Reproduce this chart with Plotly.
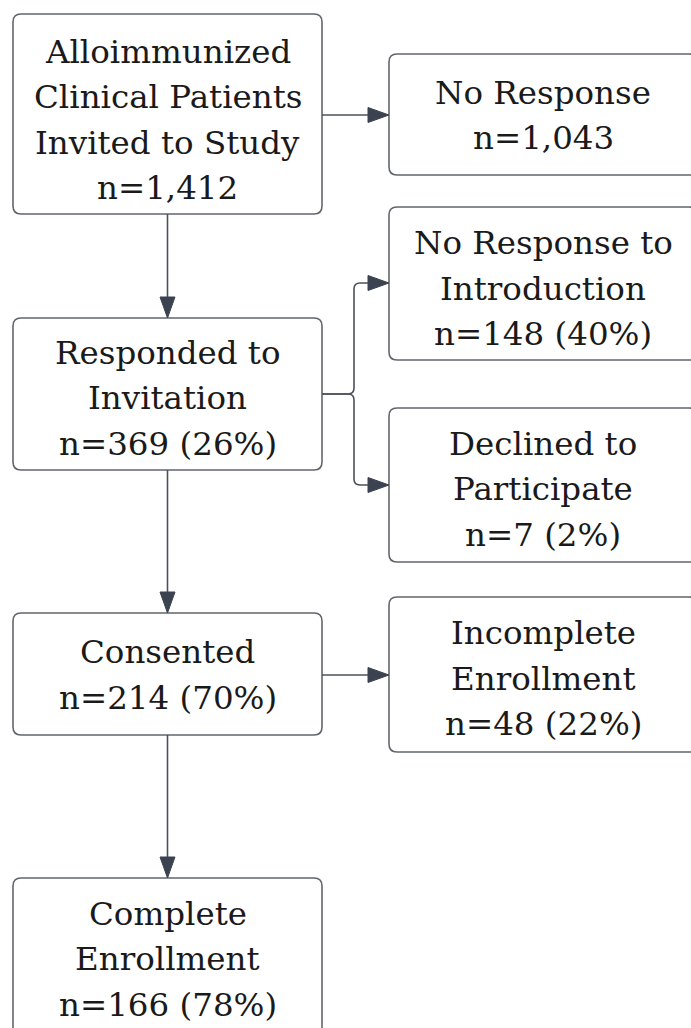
import plotly.graph_objects as go

# ---- data ----
stage_titles = [
    ["Alloimmunized", "Clinical Patients", "Invited to Study"],
    ["No Response"],
    ["Responded to", "Invitation"],
    ["No Response to", "Introduction"],
    ["Declined to", "Participate"],
    ["Consented"],
    ["Incomplete", "Enrollment"],
    ["Complete", "Enrollment"],
]
stage_counts = [1412, 1043, 369, 148, 7, 214, 48, 166]
stage_percents = [None, None, 26, 40, 2, 70, 22, 78]

# ---- layout (pixel geometry, y downwards) ----
W, H = 691, 1028
LEFT_X = (13, 322)
RIGHT_X = (389, 697)
box_x = [LEFT_X, RIGHT_X, LEFT_X, RIGHT_X, RIGHT_X, LEFT_X, RIGHT_X, LEFT_X]
box_y = [(14, 214), (54, 175), (318, 470), (207, 360), (408, 562),
         (613, 735), (597, 752), (878, 1040)]
text_offset = [6, 1, 4, 5, 4, 1, 4, 0]
LINE_GAP = 45.5
FONT = "DejaVu Serif"
FSIZE = 32.5
BORDER = "#62666c"
LINE = "#4b515a"
HEAD = "#3c4350"
R = 8

def rounded_rect(x0, y0, x1, y1, r):
    return (f"M {x0+r},{y0} L {x1-r},{y0} Q {x1},{y0} {x1},{y0+r} "
            f"L {x1},{y1-r} Q {x1},{y1} {x1-r},{y1} L {x0+r},{y1} "
            f"Q {x0},{y1} {x0},{y1-r} L {x0},{y0+r} Q {x0},{y0} {x0+r},{y0} Z")

def fmt_n(c, p):
    s = f"n={c:,}"
    if p is not None:
        s += f" ({p}%)"
    return s

shapes = []
annotations = []
for i, title in enumerate(stage_titles):
    (x0, x1), (y0, y1) = box_x[i], box_y[i]
    shapes.append(dict(type="path", path=rounded_rect(x0, y0, x1, y1, R),
                       line=dict(color=BORDER, width=1.6), fillcolor="white",
                       xref="x", yref="y", layer="below"))
    lines = title + [fmt_n(stage_counts[i], stage_percents[i])]
    n = len(lines)
    cx = (x0 + x1) / 2
    cy = (y0 + y1) / 2 + text_offset[i]
    for k, ln in enumerate(lines):
        annotations.append(dict(x=cx, y=cy + (k - (n - 1) / 2) * LINE_GAP,
                                xref="x", yref="y", text=ln, showarrow=False,
                                xanchor="center", yanchor="middle",
                                font=dict(family=FONT, size=FSIZE, color="#1a1a1a")))

HL, HW = 21, 7.5  # arrow head length, half width

def head(tx, ty, direction):
    if direction == "right":
        p = f"M {tx},{ty} L {tx-HL},{ty-HW} L {tx-HL},{ty+HW} Z"
    else:  # down
        p = f"M {tx},{ty} L {tx-HW},{ty-HL} L {tx+HW},{ty-HL} Z"
    shapes.append(dict(type="path", path=p, fillcolor=HEAD,
                       line=dict(color=HEAD, width=1), xref="x", yref="y"))

def seg(path):
    shapes.append(dict(type="path", path=path, line=dict(color=LINE, width=1.6),
                       xref="x", yref="y"))

midL = (LEFT_X[0] + LEFT_X[1]) / 2
# box1 -> No Response
y = 115
seg(f"M {LEFT_X[1]},{y} L {RIGHT_X[0]-HL},{y}"); head(RIGHT_X[0], y, "right")
# box1 -> Responded
seg(f"M {midL},{box_y[0][1]} L {midL},{box_y[2][0]-HL}"); head(midL, box_y[2][0], "down")
# branch from Responded
bx, by, ty, dy, r = 354, 394, 283, 485, 6
seg(f"M {RIGHT_X[0]-HL},{ty} L {bx+r},{ty} Q {bx},{ty} {bx},{ty+r} L {bx},{by-r} "
    f"Q {bx},{by} {bx-r},{by} L {LEFT_X[1]},{by}")
seg(f"M {LEFT_X[1]},{by} L {bx-r},{by} Q {bx},{by} {bx},{by+r} L {bx},{dy-r} "
    f"Q {bx},{dy} {bx+r},{dy} L {RIGHT_X[0]-HL},{dy}")
head(RIGHT_X[0], ty, "right"); head(RIGHT_X[0], dy, "right")
# Responded -> Consented
seg(f"M {midL},{box_y[2][1]} L {midL},{box_y[5][0]-HL}"); head(midL, box_y[5][0], "down")
# Consented -> Incomplete
y = 675
seg(f"M {LEFT_X[1]},{y} L {RIGHT_X[0]-HL},{y}"); head(RIGHT_X[0], y, "right")
# Consented -> Complete
seg(f"M {midL},{box_y[5][1]} L {midL},{box_y[7][0]-HL}"); head(midL, box_y[7][0], "down")

fig = go.Figure()
fig.update_layout(
    width=W, height=H, margin=dict(l=0, r=0, t=0, b=0),
    paper_bgcolor="white", plot_bgcolor="white",
    xaxis=dict(range=[0, W], visible=False, fixedrange=True),
    yaxis=dict(range=[H, 0], visible=False, fixedrange=True),
    shapes=shapes, annotations=annotations, showlegend=False,
)
fig.write_html("out.html", config={"displayModeBar": False},
               post_script="document.body.style.margin='0';"
                           "document.body.style.overflow='hidden';")
